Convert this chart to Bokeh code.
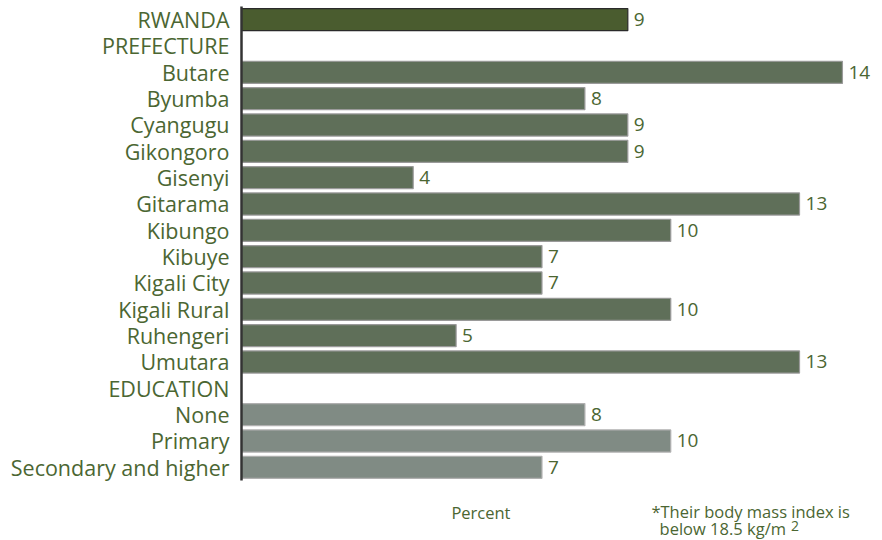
from bokeh.plotting import figure
from bokeh.models import Range1d, Label, ColumnDataSource, FixedTicker
from bokeh.core.properties import value
from bokeh.embed import file_html
from bokeh.resources import INLINE

rows = ["RWANDA", "PREFECTURE", "Butare", "Byumba", "Cyangugu", "Gikongoro", "Gisenyi",
        "Gitarama", "Kibungo", "Kibuye", "Kigali City", "Kigali Rural", "Ruhengeri",
        "Umutara", "EDUCATION", "None", "Primary", "Secondary and higher"]

total_cat = ["RWANDA"]
total_val = [9]
pref_cat = ["Butare", "Byumba", "Cyangugu", "Gikongoro", "Gisenyi", "Gitarama", "Kibungo",
            "Kibuye", "Kigali City", "Kigali Rural", "Ruhengeri", "Umutara"]
pref_val = [14, 8, 9, 9, 4, 13, 10, 7, 7, 10, 5, 13]
edu_cat = ["None", "Primary", "Secondary and higher"]
edu_val = [8, 10, 7]

FONT = "Open Sans"
TXT = "#4b6632"
N = len(rows)
pos = {name: N - 1 - i for i, name in enumerate(rows)}

p = figure(width=882, height=540, output_backend="svg", toolbar_location=None,
           y_range=Range1d(-2.78, N - 0.5),
           x_range=Range1d(0, 14.91),
           min_border_left=241, min_border_right=1, min_border_top=6, min_border_bottom=0)

groups = [(total_cat, total_val, "#4a5c2f", "#2a2a2a"),
          (pref_cat, pref_val, "#5f6f59", "#9a9a9a"),
          (edu_cat, edu_val, "#808b84", "#b0b0b0")]
for cats, vals, fill, line in groups:
    src = ColumnDataSource(dict(y=[pos[c] for c in cats], right=vals,
                                lab=[str(v) for v in vals]))
    p.hbar(y="y", left=0, right="right", height=0.84, source=src,
           fill_color=fill, line_color=line, line_width=1.2)
    p.text(x="right", y="y", text="lab", source=src, x_offset=6,
           text_align="left", text_baseline="middle", text_color=TXT,
           text_font=value(FONT), text_font_size="19px")

p.xaxis.visible = False
p.xgrid.visible = False
p.ygrid.visible = False
p.outline_line_color = None
yax = p.yaxis[0]
yax.ticker = FixedTicker(ticks=[pos[r] for r in rows])
yax.major_label_overrides = {pos[r]: r for r in rows}
yax.bounds = (-0.5, N - 0.5)
yax.axis_line_color = "#333333"
yax.axis_line_width = 2.5
yax.major_tick_line_color = None
yax.minor_tick_line_color = None
yax.major_label_standoff = 6
yax.major_label_text_font = FONT
yax.major_label_text_font_size = "21.5px"
yax.major_label_text_color = TXT

common = dict(y_units="screen", text_font=FONT, text_font_size="16.5px",
              text_color=TXT, text_baseline="middle")
p.add_layout(Label(x=4.89, y=28, text="Percent", **common))
p.add_layout(Label(x=9.55, y=29, text="*Their body mass index is", **common))
p.add_layout(Label(x=9.74, y=12, text="below 18.5 kg/m", **common))
sup = dict(common, text_font_size="14px")
p.add_layout(Label(x=12.8, y=15, text="2", **sup))

open("out.html", "w").write(file_html(p, INLINE))
